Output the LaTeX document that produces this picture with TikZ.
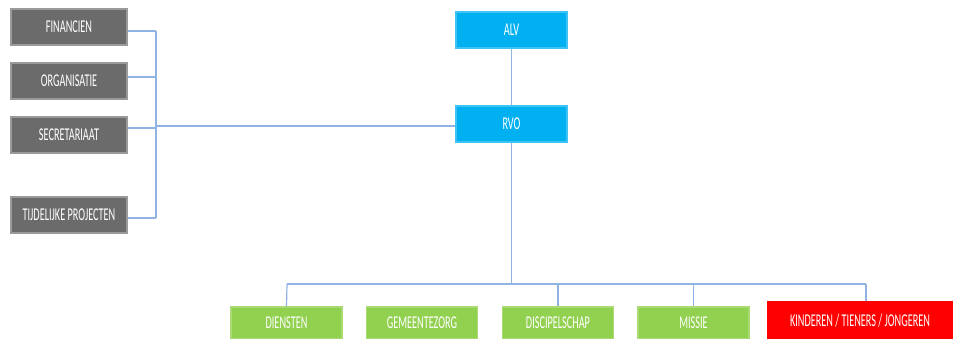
\documentclass[tikz,border=0pt]{standalone}
\usepackage{fontspec}
\setmainfont{Carlito}[FakeStretch=0.57]
\usetikzlibrary{positioning}
\definecolor{greybox}{HTML}{6B6B6B}
\definecolor{greyedge}{HTML}{9A9A9A}
\definecolor{bluebox}{HTML}{00B0F0}
\definecolor{blueedge}{HTML}{3FC3F5}
\definecolor{greenbox}{HTML}{92D050}
\definecolor{greenedge}{HTML}{A9DA74}
\definecolor{redbox}{HTML}{FF0000}
\definecolor{linkline}{HTML}{8FB4E3}
\tikzset{
  box/.style={rectangle, inner sep=0pt, text=white, font=\fontsize{13.5}{14}\selectfont, line width=0.8pt},
  staffbox/.style={box, fill=greybox, draw=greyedge, minimum width=116*0.75pt, minimum height=36*0.75pt},
  bodybox/.style={box, fill=bluebox, draw=blueedge, minimum width=111*0.75pt, minimum height=36*0.75pt},
  teambox/.style={box, fill=greenbox, draw=greenedge, minimum width=111*0.75pt, minimum height=32*0.75pt},
  kidsbox/.style={box, fill=redbox, draw=redbox, minimum width=184*0.75pt, minimum height=37*0.75pt},
  link/.style={draw=linkline, line width=0.9pt},
}
\begin{document}
\begin{tikzpicture}[x=0.75pt, y=-0.75pt]
\useasboundingbox[fill=white] (0,0) rectangle (953,339);

% support groups on the left
\node[staffbox] (fin) at (69,27) {FINANCIEN};
\node[staffbox] (org) at (69,81) {ORGANISATIE};
\node[staffbox] (sec) at (69,135) {SECRETARIAAT};
\node[staffbox] (tmp) at (69,215) {TIJDELIJKE PROJECTEN};

% governing bodies
\node[bodybox] (alv) at (511.5,30) {ALV};
\node[bodybox] (rvo) at (511.5,124) {RVO};

% ministries
\node[teambox] (die) at (286.5,323) {DIENSTEN};
\node[teambox] (gem) at (422,323) {GEMEENTEZORG};
\node[teambox] (dis) at (558,323) {DISCIPELSCHAP};
\node[teambox] (mis) at (693.5,323) {MISSIE};
\node[kidsbox] (kid) at (860,320.5) {KINDEREN / TIENERS / JONGEREN};

% bus points
\coordinate (lbtop) at (156,31);
\coordinate (lbbot) at (156,218);
\coordinate (lbmid) at (156,126);
\coordinate (bdrop) at (511.5,284);
\coordinate (bl) at (287,284);
\coordinate (br) at (866,284);

% left bus
\path[link] (lbtop) -- (lbbot);
\path[link] (fin.east |- lbtop) -- (lbtop);
\path[link] (org.east) ++(0,-4) -- ++(29,0);
\path[link] (sec.east) ++(0,-7) -- ++(29,0);
\path[link] (tmp.east) ++(0,3) -- (lbbot);
\path[link] (lbmid) -- (rvo.west |- lbmid);

% centre spine
\path[link] (alv) -- (rvo);
\path[link] (rvo) -- (bdrop);

% lower bus
\path[link] (bl) -- (br);
\path[link] (bl) -- (die.north);
\path[link] (dis.north |- bl) -- (dis.north);
\path[link] (mis.north |- bl) -- (mis.north);
\path[link] (br) -- (kid.north -| br);
\end{tikzpicture}
\end{document}
